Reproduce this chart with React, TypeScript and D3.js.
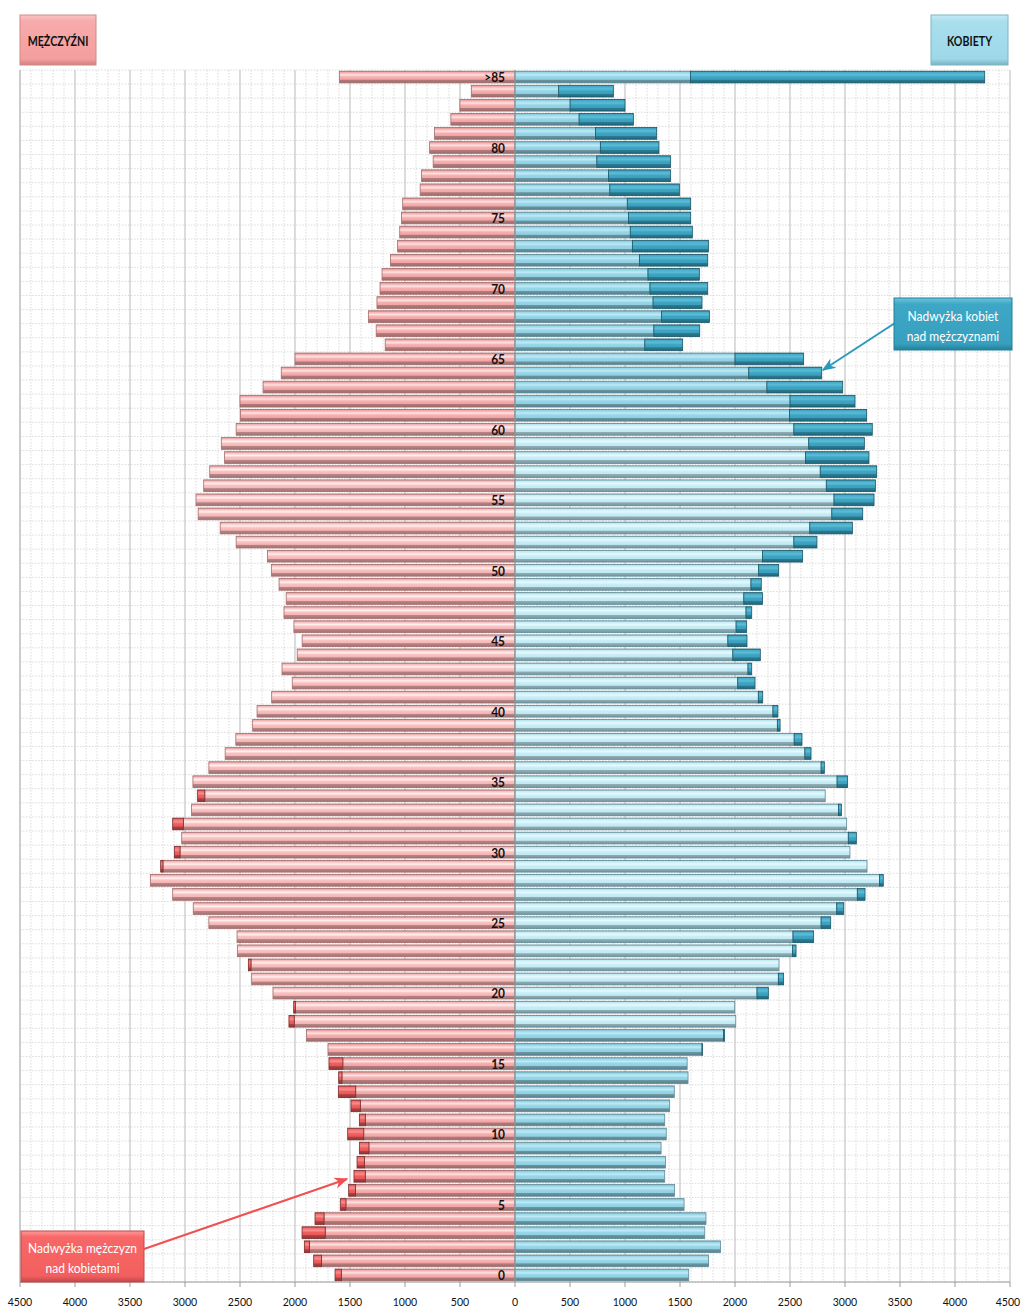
import React from 'react';
import * as d3 from 'd3';

// ages 0..85 (85 = ">85")
const AGES: number[] = Array.from({ length: 86 }, (_, i) => i);
const AGE_TICKS: number[] = [0, 5, 10, 15, 20, 25, 30, 35, 40, 45, 50, 55, 60, 65, 70, 75, 80, 85];
const X_TICKS: number[] = [-4500, -4000, -3500, -3000, -2500, -2000, -1500, -1000, -500, 0, 500, 1000, 1500, 2000, 2500, 3000, 3500, 4000, 4500];

// Men by age (index = age)
const MEN: number[] = [
  1636, 1830, 1915, 1936, 1818, 1588, 1512, 1464, 1436, 1415,
  1521, 1415, 1491, 1606, 1603, 1691, 1700, 1895, 2055, 2012,
  2200, 2394, 2424, 2524, 2527, 2783, 2925, 3112, 3315, 3221,
  3097, 3030, 3112, 2940, 2885, 2928, 2783, 2635, 2538, 2385,
  2345, 2212, 2025, 2118, 1980, 1935, 2010, 2100, 2080, 2145,
  2215, 2250, 2535, 2680, 2880, 2900, 2830, 2775, 2640, 2670,
  2535, 2495, 2500, 2290, 2125, 2000, 1180, 1262, 1333, 1255,
  1227, 1209, 1132, 1067, 1048, 1032, 1021, 862, 851, 744,
  776, 731, 583, 501, 397, 1595,
];

// Women by age (index = age)
const WOMEN: number[] = [
  1579, 1760, 1868, 1725, 1736, 1537, 1450, 1361, 1368, 1328,
  1375, 1361, 1406, 1448, 1573, 1565, 1705, 1905, 2007, 1997,
  2303, 2442, 2400, 2555, 2715, 2870, 2988, 3182, 3348, 3200,
  3045, 3103, 3015, 2967, 2820, 3024, 2812, 2691, 2609, 2410,
  2390, 2252, 2182, 2152, 2230, 2109, 2106, 2152, 2250, 2239,
  2397, 2615, 2745, 3067, 3161, 3264, 3276, 3288, 3218, 3176,
  3248, 3197, 3091, 2979, 2788, 2624, 1524, 1679, 1767, 1700,
  1752, 1676, 1752, 1758, 1612, 1597, 1597, 1494, 1415, 1415,
  1309, 1288, 1076, 1000, 894, 4270,
];

const W = 1022;
const H = 1310;
const PLOT_TOP = 70;
const PLOT_BOTTOM = 1282;
const FONT = "Lato, 'Open Sans', Arial, sans-serif";

type Stops = [number, string][];
const grad = (id: string, stops: Stops) => (
  <linearGradient id={id} x1="0" y1="0" x2="0" y2="1" key={id}>
    {stops.map(([o, c], i) => (
      <stop key={i} offset={`${o}%`} stopColor={c} />
    ))}
  </linearGradient>
);

// condensed text (Calibri-like look)
function T(props: {
  x: number; y: number; size: number; anchor?: 'start' | 'middle' | 'end';
  weight?: number; fill?: string; sx?: number; children: React.ReactNode;
}) {
  const { x, y, size, anchor = 'middle', weight = 400, fill = '#111', sx = 0.88, children } = props;
  return (
    <g transform={`translate(${x},${y}) scale(${sx},1)`}>
      <text x={0} y={0} textAnchor={anchor} dominantBaseline="central" fontSize={size} fontWeight={weight} fill={fill}>
        {children}
      </text>
    </g>
  );
}

export default function App() {
  const x = d3.scaleLinear().domain([-4500, 4500]).range([20, 1010]);
  const y = d3
    .scaleBand<number>()
    .domain(AGES)
    .range([PLOT_BOTTOM, PLOT_TOP])
    .paddingInner(0.17)
    .paddingOuter(0.085);
  const step = (PLOT_BOTTOM - PLOT_TOP) / AGES.length;
  const bh = y.bandwidth();
  const x0 = x(0);

  const minorX = d3.range(-4500, 4501, 100).filter((v) => v % 500 !== 0);
  const majorX = d3.range(-4500, 4501, 500);
  const rowLines = d3.range(0, AGES.length + 1).map((i) => PLOT_TOP + i * step);

  const isMedium = (a: number) => a <= 17 || a >= 61;

  return (
    <svg
      width={W}
      height={H}
      style={{ position: 'absolute', left: 0, top: 0, background: '#fff' }}
      fontFamily={FONT}
    >
      <defs>
        {grad('menMed', [
          [0, '#c88282'], [10, '#f4a9a9'], [32, '#fde3e3'], [48, '#f6b1b1'],
          [70, '#f2a3a3'], [74, '#b47c7c'], [100, '#9c6a6a'],
        ])}
        {grad('menPale', [
          [0, '#cf8d8d'], [10, '#f7b8b8'], [32, '#fff0f0'], [48, '#f9c2c2'],
          [70, '#f6b4b4'], [74, '#b98585'], [100, '#a07272'],
        ])}
        {grad('menEx', [
          [0, '#a84040'], [10, '#f06a6a'], [32, '#f98c8c'], [48, '#ee6060'],
          [70, '#ea5757'], [74, '#b04242'], [100, '#8e3636'],
        ])}
        {grad('womMed', [
          [0, '#6aa8b8'], [10, '#94d4e7'], [32, '#bfeaf5'], [48, '#98d6e8'],
          [70, '#90d0e3'], [74, '#6a97a3'], [100, '#577f8a'],
        ])}
        {grad('womPale', [
          [0, '#8dbcc7'], [10, '#c3ebf5'], [32, '#e6f9fd'], [48, '#c8eef7'],
          [70, '#bfe9f3'], [74, '#8fadb4'], [100, '#7795a0'],
        ])}
        {grad('womEx', [
          [0, '#25788f'], [10, '#45abc8'], [32, '#5cbcd7'], [48, '#3fa5c3'],
          [70, '#399fbd'], [74, '#2b7c93'], [100, '#20677b'],
        ])}
        {grad('boxPink', [
          [0, '#fbc4c4'], [12, '#f7abab'], [88, '#f49e9e'], [100, '#d08080'],
        ])}
        {grad('boxBlue', [
          [0, '#c4ecf6'], [12, '#a9dfed'], [88, '#9ed8e8'], [100, '#78b3c3'],
        ])}
        {grad('boxTeal', [
          [0, '#6cc6de'], [12, '#3ea7c6'], [88, '#37a0bf'], [100, '#237f98'],
        ])}
        {grad('boxRed', [
          [0, '#ff9a9a'], [12, '#f76767'], [88, '#f35f5f'], [100, '#c04848'],
        ])}
        <marker id="arrTeal" viewBox="0 0 10 10" refX="9" refY="5" markerWidth="7" markerHeight="7" orient="auto-start-reverse">
          <path d="M0,1 L10,5 L0,9 L3,5 Z" fill="#2b9ab9" />
        </marker>
        <marker id="arrRed" viewBox="0 0 10 10" refX="9" refY="5" markerWidth="7" markerHeight="7" orient="auto-start-reverse">
          <path d="M0,1 L10,5 L0,9 L3,5 Z" fill="#f05050" />
        </marker>
      </defs>

      {/* grid: horizontal row lines */}
      {rowLines.map((yy, i) => (
        <line key={`h${i}`} x1={20} x2={1010} y1={yy} y2={yy} stroke="#d2d2d2" strokeWidth={0.8} strokeDasharray="1.5,1.5" />
      ))}
      {/* minor vertical grid */}
      {minorX.map((v) => (
        <line key={`m${v}`} x1={x(v)} x2={x(v)} y1={PLOT_TOP} y2={PLOT_BOTTOM} stroke="#d2d2d2" strokeWidth={0.8} strokeDasharray="1.5,1.5" />
      ))}
      {/* major vertical grid */}
      {majorX.map((v) => (
        <line key={`M${v}`} x1={x(v)} x2={x(v)} y1={PLOT_TOP} y2={PLOT_BOTTOM} stroke="#c4c4c4" strokeWidth={1.2} />
      ))}

      {/* bars */}
      {AGES.map((a) => {
        const m = MEN[a];
        const w = WOMEN[a];
        const c = Math.min(m, w);
        const yy = y(a) as number;
        const med = isMedium(a);
        return (
          <g key={`r${a}`}>
            <rect x={x(-c)} y={yy} width={x0 - x(-c)} height={bh} fill={`url(#${med ? 'menMed' : 'menPale'})`} stroke="#a46c6c" strokeWidth={0.8} />
            {m > w && (
              <rect x={x(-m)} y={yy} width={x(-w) - x(-m)} height={bh} fill="url(#menEx)" stroke="#7a2a2a" strokeWidth={0.8} />
            )}
            <rect x={x0} y={yy} width={x(c) - x0} height={bh} fill={`url(#${med ? 'womMed' : 'womPale'})`} stroke="#5f8a96" strokeWidth={0.8} />
            {w > m && (
              <rect x={x(m)} y={yy} width={x(w) - x(m)} height={bh} fill="url(#womEx)" stroke="#1b5566" strokeWidth={0.8} />
            )}
          </g>
        );
      })}

      {/* center axis */}
      <line x1={x0} x2={x0} y1={PLOT_TOP} y2={PLOT_BOTTOM} stroke="#9a9a9a" strokeWidth={1} />
      {/* plot frame left/bottom */}
      <line x1={20} x2={20} y1={PLOT_TOP} y2={PLOT_BOTTOM} stroke="#bdbdbd" strokeWidth={1} />
      <line x1={20} x2={1010} y1={PLOT_BOTTOM} y2={PLOT_BOTTOM} stroke="#9a9a9a" strokeWidth={1} />
      {majorX.map((v) => (
        <line key={`t${v}`} x1={x(v)} x2={x(v)} y1={PLOT_BOTTOM} y2={PLOT_BOTTOM + 5} stroke="#9a9a9a" strokeWidth={1} />
      ))}

      {/* age labels */}
      {AGE_TICKS.map((a) => (
        <T key={`al${a}`} x={x0 - 10} y={(y(a) as number) + bh / 2} size={14} weight={700} anchor="end" sx={0.85}>
          {a === 85 ? '>85' : String(a)}
        </T>
      ))}

      {/* x tick labels */}
      {X_TICKS.map((v) => (
        <T key={`xl${v}`} x={v === 4500 ? x(v) - 2 : x(v)} y={1301} size={12} sx={0.88}>
          {String(Math.abs(v))}
        </T>
      ))}

      {/* header boxes */}
      <rect x={20} y={15} width={76} height={50} fill="url(#boxPink)" stroke="#cf8a8a" strokeWidth={1} />
      <T x={58} y={41} size={13} weight={700} sx={0.82}>MĘŻCZYŹNI</T>
      <rect x={931} y={15} width={77} height={50} fill="url(#boxBlue)" stroke="#7fb6c4" strokeWidth={1} />
      <T x={969.5} y={41} size={13} weight={700} sx={0.82}>KOBIETY</T>

      {/* annotation: women surplus */}
      <line x1={895} y1={323} x2={823} y2={370} stroke="#2b9ab9" strokeWidth={2} markerEnd="url(#arrTeal)" />
      <rect x={894} y={298} width={118} height={52} fill="url(#boxTeal)" stroke="#237f98" strokeWidth={1} />
      <T x={953} y={316} size={14} fill="#fff" sx={0.86}>Nadwyżka kobiet</T>
      <T x={953} y={336} size={14} fill="#fff" sx={0.86}>nad  mężczyznami</T>

      {/* annotation: men surplus */}
      <line x1={144} y1={1249} x2={347} y2={1179} stroke="#f05050" strokeWidth={2} markerEnd="url(#arrRed)" />
      <rect x={21} y={1231} width={123} height={51} fill="url(#boxRed)" stroke="#c04848" strokeWidth={1} />
      <T x={82.5} y={1248} size={14} fill="#fff" sx={0.86}>Nadwyżka mężczyzn</T>
      <T x={82.5} y={1268} size={14} fill="#fff" sx={0.86}>nad kobietami</T>
    </svg>
  );
}
